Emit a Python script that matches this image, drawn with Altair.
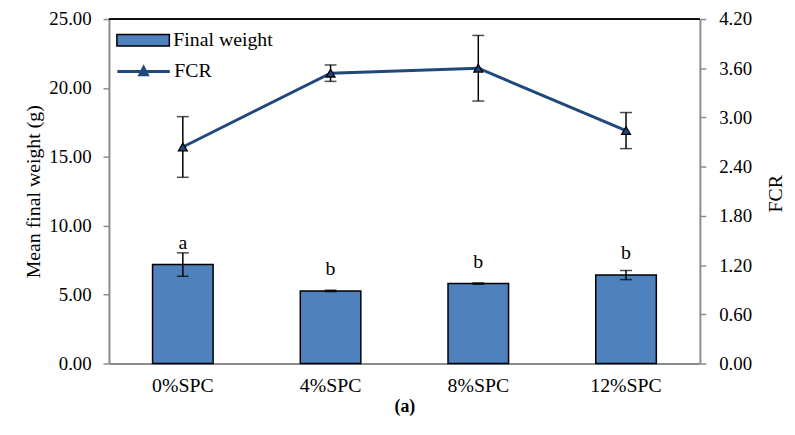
import altair as alt
import pandas as pd

categories = ["0%SPC", "4%SPC", "8%SPC", "12%SPC"]
final_weight = [7.18, 5.27, 5.80, 6.42]
weight_err = [0.85, 0.05, 0.05, 0.33]
fcr = [2.64, 3.54, 3.60, 2.84]
fcr_err = [0.37, 0.10, 0.40, 0.22]
letters = ["a", "b", "b", "b"]

df = pd.DataFrame({
    "cat": categories,
    "weight": final_weight,
    "w_err": weight_err,
    "fcr": fcr,
    "f_err": fcr_err,
    "letter": letters,
})
df["w_lo"] = df["weight"] - df["w_err"]
df["w_hi"] = df["weight"] + df["w_err"]
df["f_lo"] = df["fcr"] - df["f_err"]
df["f_hi"] = df["fcr"] + df["f_err"]
df["s_bar"] = "Final weight"
df["s_line"] = "FCR"

FONT = "Liberation Serif"
GRAY = "#8C8C8C"
BAR = "#4F81BD"
LINE = "#1F497D"

x = alt.X("cat:N", sort=categories,
          scale=alt.Scale(paddingInner=0.59, paddingOuter=0.295),
          axis=alt.Axis(title="(a)", labelAngle=0, ticks=False, tickSize=0,
                        domainColor=GRAY, domainWidth=2, labelFont=FONT,
                        labelFontSize=20, labelPadding=12,
                        titleFont=FONT, titleFontSize=18, titleFontWeight="bold",
                        titleColor="black", titlePadding=3))

left_scale = alt.Scale(domain=[0, 25], nice=False)
left_axis = alt.Axis(values=[0, 5, 10, 15, 20, 25], format=".2f", grid=False,
                     domainColor=GRAY, domainWidth=2, tickColor=GRAY, tickWidth=1.5,
                     tickSize=6, labelFont=FONT, labelFontSize=19,
                     labelPadding=12, titleFont=FONT, titleFontSize=20,
                     titleFontWeight="normal", titleColor="black", titlePadding=5)
LT = "Mean final weight (g)"

right_scale = alt.Scale(domain=[0, 4.2], nice=False)
right_axis = alt.Axis(orient="right", values=[0, 0.6, 1.2, 1.8, 2.4, 3.0, 3.6, 4.2],
                      format=".2f", grid=False, domainColor=GRAY, domainWidth=2,
                      tickColor=GRAY, tickWidth=1.5, tickSize=6, labelFont=FONT,
                      labelFontSize=19, labelPadding=13,
                      titleFont=FONT, titleFontSize=20, titleFontWeight="normal",
                      titleColor="black", titleAngle=270, titleX=76, titleY=176,
                      titleAlign="center", titleBaseline="middle")
RT = "FCR"

base = alt.Chart(df)

rect_path = "M-1,-0.22H1V0.22H-1Z"
line_path = "M-1,0H1M-0.14,0.12L0.14,0.12L0,-0.15Z"

bars = base.mark_bar(stroke="black", strokeWidth=1.5).encode(
    x=x,
    y=alt.Y("weight:Q", scale=left_scale, axis=left_axis, title=LT),
    fill=alt.Fill("s_bar:N", scale=alt.Scale(range=[BAR]),
                  legend=alt.Legend(title=None, orient="none", legendX=7, legendY=-6,
                                    padding=0, symbolType=rect_path, symbolSize=2809,
                                    symbolStrokeColor="black", symbolStrokeWidth=1.5,
                                    labelFont=FONT, labelFontSize=20, labelOffset=3)),
)
w_rule = base.mark_rule(color="black", strokeWidth=1.5).encode(
    x=x, y=alt.Y("w_lo:Q", scale=left_scale, axis=left_axis, title=LT), y2="w_hi:Q")
w_cap_lo = base.mark_tick(color="black", thickness=1.5, size=12).encode(
    x=x, y=alt.Y("w_lo:Q", scale=left_scale, axis=left_axis, title=LT))
w_cap_hi = base.mark_tick(color="black", thickness=1.5, size=12).encode(
    x=x, y=alt.Y("w_hi:Q", scale=left_scale, axis=left_axis, title=LT))
w_text = base.mark_text(dy=-16, baseline="alphabetic", font=FONT, fontSize=20,
                        color="black").encode(
    x=x, y=alt.Y("weight:Q", scale=left_scale, axis=left_axis, title=LT), text="letter:N")
top_border = base.mark_rule(color="black", strokeWidth=1).encode(
    x=alt.value(0), x2=alt.value(597), y=alt.value(0))

left = alt.layer(bars, w_rule, w_cap_lo, w_cap_hi, w_text, top_border)

line = base.mark_line(strokeWidth=3).encode(
    x=x,
    y=alt.Y("fcr:Q", scale=right_scale, axis=right_axis, title=RT),
    stroke=alt.Stroke("s_line:N", scale=alt.Scale(range=[LINE]),
                      legend=alt.Legend(title=None, orient="none", legendX=7, legendY=25,
                                        padding=0, symbolType=line_path, symbolSize=2809,
                                        symbolStrokeWidth=3, symbolFillColor=LINE,
                                        labelFont=FONT, labelFontSize=20, labelOffset=3)),
)
f_rule = base.mark_rule(color="black", strokeWidth=1.5).encode(
    x=x, y=alt.Y("f_lo:Q", scale=right_scale, axis=right_axis, title=RT), y2="f_hi:Q")
f_cap_lo = base.mark_tick(color="black", thickness=1.5, size=12).encode(
    x=x, y=alt.Y("f_lo:Q", scale=right_scale, axis=right_axis, title=RT))
f_cap_hi = base.mark_tick(color="black", thickness=1.5, size=12).encode(
    x=x, y=alt.Y("f_hi:Q", scale=right_scale, axis=right_axis, title=RT))
pts = base.mark_point(shape="triangle-up", filled=True, fill=LINE, stroke="black",
                      strokeWidth=1.3, size=80, opacity=1).encode(
    x=x, y=alt.Y("fcr:Q", scale=right_scale, axis=right_axis, title=RT))

right = alt.layer(line, f_rule, f_cap_lo, f_cap_hi, pts)

chart = alt.layer(left, right).resolve_scale(
    y="independent", fill="independent", stroke="independent"
).properties(
    width=597, height=348,
    autosize=alt.AutoSizeParams(type="none"),
    padding={"left": 102, "top": 9, "right": 88, "bottom": 62},
    background="white",
).configure(font=FONT).configure_view(stroke=None).configure_axis(
    labelFont=FONT, titleFont=FONT, labelColor="black"
).configure_legend(labelFont=FONT, labelColor="black").configure_text(font=FONT)

chart.save("out.html", embed_options={"renderer": "svg", "actions": False})
